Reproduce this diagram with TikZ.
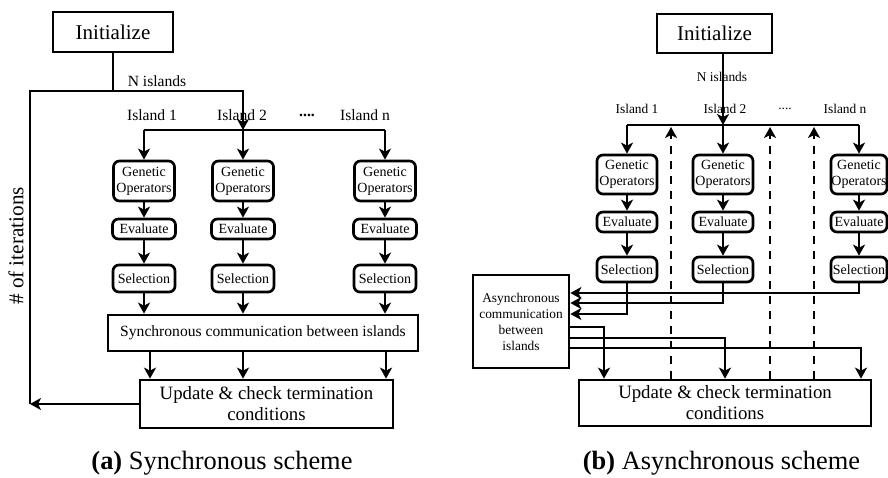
\documentclass[tikz,border=0pt]{standalone}
\usepackage{fontspec}
\setmainfont{Liberation Serif}
\usetikzlibrary{arrows.meta}

\newcommand{\fInit}{\fontsize{10.5}{12}\selectfont}
\newcommand{\fUpd}{\fontsize{9.4}{10.5}\selectfont}
\newcommand{\fIsla}{\fontsize{7.8}{9}\selectfont}
\newcommand{\fCaja}{\fontsize{7}{8}\selectfont}
\newcommand{\fChica}{\fontsize{6.7}{8}\selectfont}
\newcommand{\fCap}{\fontsize{13.2}{15}\selectfont}

\tikzset{
  caja/.style={draw, line width=1.35pt, inner sep=0pt, align=center},
  redonda/.style={caja, rounded corners=3pt, font=\fCaja},
  linea/.style={line width=1.35pt},
  flecha/.style={line width=1.35pt, -{Stealth[length=5.5pt,width=6pt,inset=1.5pt]}},
  discont/.style={flecha, dash pattern=on 4pt off 3.5pt}
}

\begin{document}
\begin{tikzpicture}[x=0.5pt, y=-0.5pt]
  \useasboundingbox (0,0) rectangle (888,477);

  % (a) Esquema sincrono
  \node[caja, minimum width=60pt, minimum height=20pt, font=\fInit] (ini1) at (113,32) {Initialize};
  \coordinate (vuelta) at (30,91);
  \coordinate (rep1) at (243,130);
  \node[font=\fIsla] (nisl1) at (157,81) {N islands};

  \node[font=\fIsla] (isla11) at (152,115) {Island 1};
  \node[font=\fIsla] (isla12) at (242,115) {Island 2};
  \node[font=\fIsla] (puntos1) at (307,115) {\textbf{....}};
  \node[font=\fIsla] (isla1n) at (365,115) {Island n};

  \foreach \c/\x in {1/144,2/243,3/385} {
    \node[redonda, minimum width=30.5pt, minimum height=20pt] (go1\c) at (\x,181) {Genetic\\Operators};
    \node[redonda, minimum width=31.5pt, minimum height=10pt] (ev1\c) at (\x,229) {Evaluate};
    \node[redonda, minimum width=31pt, minimum height=13.5pt] (se1\c) at (\x,278.5) {Selection};
    \draw[flecha] (go1\c.north |- rep1) -- (go1\c.north);
    \draw[flecha] (go1\c.south) -- (go1\c.south |- ev1\c.north);
    \draw[flecha] (ev1\c.south) -- (ev1\c.south |- se1\c.north);
  }

  \node[caja, minimum width=155pt, minimum height=18pt, font=\fIsla] (sinc) at (263,333) {Synchronous communication between islands};
  \node[caja, minimum width=126.5pt, minimum height=24pt, font=\fUpd] (upd1) at (266.5,404) {Update \& check termination\\conditions};
  \node[rotate=90, font=\fontsize{10.6}{12}\selectfont] (iter) at (16,246) {\# of iterations};

  \draw[linea] (ini1.south) -- (ini1.south |- vuelta);
  \draw[flecha] (upd1.west) -- (upd1.west -| vuelta);
  \draw[flecha] (upd1.west -| vuelta) -- (vuelta) -- (rep1 |- vuelta) -- (rep1);
  \draw[linea] (go11.north |- rep1) -- (go13.north |- rep1);
  \foreach \c in {1,2,3}
    \draw[flecha] (se1\c.south) -- (se1\c.south |- sinc.north);
  \foreach \d in {-56.5pt,-10pt,61.5pt}
    \draw[flecha] ([xshift=\d]sinc.south) -- ([xshift=\d]sinc.south |- upd1.north);

  \node[font=\fCap] (capa) at (222,463) {\textbf{(a)} Synchronous scheme};

  % (b) Esquema asincrono
  \node[caja, minimum width=57.5pt, minimum height=19.5pt, font=\fInit] (ini2) at (714.5,33.5) {Initialize};
  \coordinate (rep2) at (723,125);
  \node[font=\fChica] (nisl2) at (722,77) {N islands};
  \draw[flecha] (ini2.south -| rep2) -- (rep2);

  \node[font=\fChica] (isla21) at (637,109) {Island 1};
  \node[font=\fChica] (isla22) at (725,109) {Island 2};
  \node[font=\fChica] (puntos2) at (785,109) {....};
  \node[font=\fChica] (isla2n) at (845,109) {Island n};

  \foreach \c/\x/\w in {1/627/30pt,2/723/30pt,3/859/28pt} {
    \node[redonda, minimum width=\w, minimum height=19.5pt] (go2\c) at (\x,174.5) {Genetic\\Operators};
    \node[redonda, minimum width=\w, minimum height=10pt] (ev2\c) at (\x,222) {Evaluate};
    \node[redonda, minimum width=\w, minimum height=12.5pt] (se2\c) at (\x,269.5) {Selection};
    \draw[flecha] (go2\c.north |- rep2) -- (go2\c.north);
    \draw[flecha] (go2\c.south) -- (go2\c.south |- ev2\c.north);
    \draw[flecha] (ev2\c.south) -- (ev2\c.south |- se2\c.north);
  }
  \draw[linea] (go21.north |- rep2) -- (go23.north |- rep2);

  \node[caja, minimum width=48pt, minimum height=46.5pt, font=\fChica] (asinc) at (521,321.5) {Asynchronous\\communication\\between\\islands};
  \node[caja, minimum width=146pt, minimum height=23pt, font=\fUpd] (upd2) at (725,403) {Update \& check termination\\conditions};

  \foreach \d in {-27pt,22.5pt,44.5pt}
    \draw[discont, shorten >=1pt] ([xshift=\d]upd2.north) -- ([xshift=\d]upd2.north |- rep2);

  \draw[flecha] (se23.south) |- ([yshift=14.25pt]asinc.east);
  \draw[flecha] (se22.south) |- ([yshift=9.25pt]asinc.east);
  \draw[flecha] (se21.south) |- ([yshift=3.75pt]asinc.east);
  \draw[flecha] ([yshift=-2.75pt]asinc.east) -| ([xshift=-60.5pt]upd2.north);
  \draw[flecha] ([yshift=-8.25pt]asinc.east) -| (upd2.north);
  \draw[flecha] ([yshift=-13.25pt]asinc.east) -| ([xshift=68pt]upd2.north);

  \node[font=\fCap] (capb) at (721.5,463) {\textbf{(b)} Asynchronous scheme};
\end{tikzpicture}
\end{document}
